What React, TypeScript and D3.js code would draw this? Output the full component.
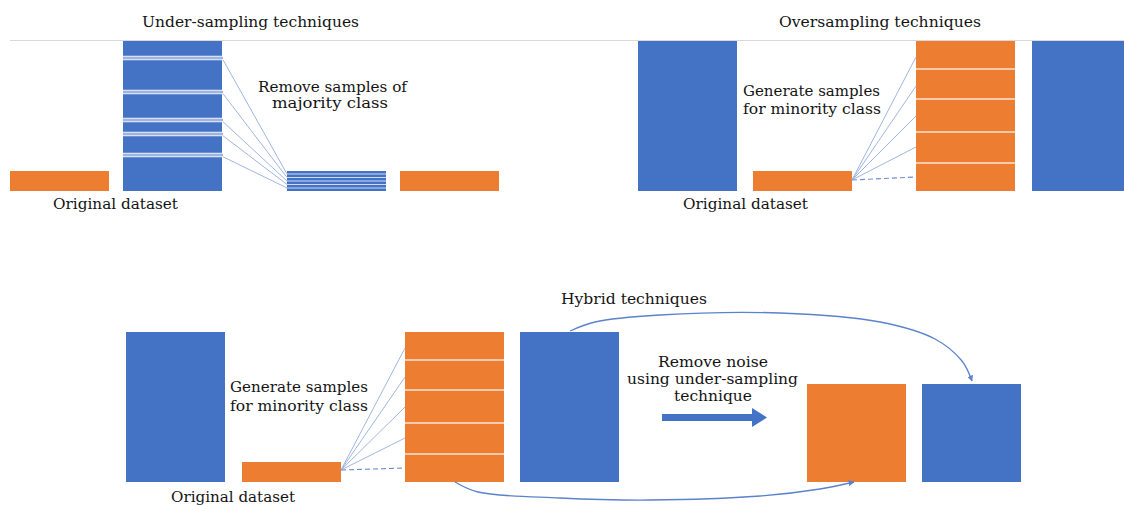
import React from "react";
import * as d3 from "d3";

// ---------- data ----------
const classColors = ["#4472C4", "#ED7D31"];
const classNames = ["majority", "minority"];

// Under-sampling panel: original minority, original majority, reduced majority, minority
const underClasses = ["minority", "majority", "majority", "minority"];
const underCounts = [20, 150, 20, 20];
const removedSampleLevels = [133, 99, 71, 57, 36];
const reducedSampleLevels = [17, 13.5, 10, 6.5, 3];

// Oversampling panel
const overClasses = ["majority", "minority", "minority", "majority"];
const overCounts = [150, 20, 150, 150];
const generatedBoundaries = [122, 92, 59, 28];
const generatedTargets = [134, 105, 75, 44, 14];

// Hybrid panel
const hybridClasses = ["majority", "minority", "minority", "majority", "minority", "majority"];
const hybridCounts = [150, 20, 150, 150, 98, 98];

const panelTitles = ["Under-sampling techniques", "Oversampling techniques", "Hybrid techniques"];

// ---------- layout ----------
const W = 1124;
const H = 505;
const BAR_W = 99;
const underX = [10, 123, 287, 400];
const overX = [638, 753, 916, 1032];
const hybridX = [126, 242, 405, 520, 807, 922];

const yTop = d3.scaleLinear().domain([0, 150]).range([191, 41]);
const yBot = d3.scaleLinear().domain([0, 150]).range([482, 332]);
const color = d3.scaleOrdinal<string, string>().domain(classNames).range(classColors);

const FONT = "'DejaVu Serif', 'Liberation Serif', serif";
const TEXT_COLOR = "#141414";
const FAN = "#9fb6e2";
const FAN_DASH = "#6f8fd0";
const CURVE = "#5b82cc";

type Label = { t: string; x: number; y: number; w: number };
const labels: Label[] = [
  { t: panelTitles[0], x: 250.5, y: 27, w: 217 },
  { t: panelTitles[1], x: 880, y: 27, w: 202 },
  { t: "Remove samples of", x: 332.5, y: 92, w: 149 },
  { t: "majority class", x: 330, y: 108, w: 116 },
  { t: "Original dataset", x: 115.5, y: 209, w: 125 },
  { t: "Generate samples", x: 811.5, y: 96, w: 137 },
  { t: "for minority class", x: 812, y: 114, w: 138 },
  { t: "Original dataset", x: 745.5, y: 209, w: 125 },
  { t: "Generate samples", x: 299, y: 392, w: 138 },
  { t: "for minority class", x: 299, y: 411, w: 138 },
  { t: "Original dataset", x: 233, y: 502, w: 124 },
  { t: panelTitles[2], x: 634, y: 304, w: 146 },
  { t: "Remove noise", x: 713, y: 367, w: 110 },
  { t: "using under-sampling", x: 712.5, y: 384, w: 171 },
  { t: "technique", x: 713, y: 401, w: 78 },
];

function Bars({ xs, cls, counts, y }: { xs: number[]; cls: string[]; counts: number[]; y: d3.ScaleLinear<number, number> }) {
  return (
    <g>
      {counts.map((c, i) => (
        <rect key={i} x={xs[i]} y={y(c)} width={BAR_W} height={y(0) - y(c)} fill={color(cls[i])} />
      ))}
    </g>
  );
}

function OverFan({ srcX, srcLevel, barX, y }: { srcX: number; srcLevel: number; barX: number; y: d3.ScaleLinear<number, number> }) {
  return (
    <g>
      {generatedTargets.map((lv, i) => {
        const last = i === generatedTargets.length - 1;
        return (
          <line
            key={i}
            x1={srcX}
            y1={y(srcLevel)}
            x2={barX}
            y2={y(lv)}
            stroke={last ? FAN_DASH : FAN}
            strokeWidth={last ? 1.2 : 1}
            strokeDasharray={last ? "5,3" : undefined}
          />
        );
      })}
    </g>
  );
}

function Boundaries({ x, y }: { x: number; y: d3.ScaleLinear<number, number> }) {
  return (
    <g>
      {generatedBoundaries.map((lv, i) => (
        <line key={i} x1={x} x2={x + BAR_W} y1={y(lv)} y2={y(lv)} stroke="#fbe3d4" strokeWidth={1.5} />
      ))}
    </g>
  );
}

export default function App() {
  const curveLine = d3
    .line<[number, number]>()
    .x((d) => d[0])
    .y((d) => d[1])
    .curve(d3.curveCatmullRom.alpha(0.5));

  const topArc: [number, number][] = [
    [570, 331],
    [595, 322],
    [660, 315],
    [780, 313],
    [880, 322],
    [935, 339],
    [962, 361],
    [972, 381],
  ];
  const bottomArc: [number, number][] = [
    [455, 482],
    [478, 492],
    [560, 498],
    [650, 500],
    [760, 496],
    [820, 489],
    [854, 482],
  ];

  const majX = underX[1];
  const redX = underX[2];

  return (
    <svg width={W} height={H} style={{ position: "absolute", left: 0, top: 0, background: "#fff" }}>
      <defs>
        <marker id="ah" viewBox="0 0 10 10" refX="9" refY="5" markerWidth="6" markerHeight="6" orient="auto-start-reverse" markerUnits="userSpaceOnUse">
          <path d="M0,0 L10,5 L0,10 z" fill={CURVE} />
        </marker>
      </defs>
      <rect x={0} y={0} width={W} height={H} fill="#fff" />

      {/* top separator */}
      <line x1={10} x2={W} y1={40.5} y2={40.5} stroke="#d9d9d9" strokeWidth={1} />

      {/* ---------- Under-sampling ---------- */}
      <Bars xs={underX} cls={underClasses} counts={underCounts} y={yTop} />
      {removedSampleLevels.map((lv, i) => (
        <g key={i}>
          <rect x={majX} y={yTop(lv + 1.75)} width={BAR_W + 1} height={3.5} fill="#9db3e2" />
          <line x1={majX} x2={majX + BAR_W + 1} y1={yTop(lv + 1.75)} y2={yTop(lv + 1.75)} stroke="#ffffff" strokeOpacity={0.9} strokeWidth={1} />
          <line x1={majX} x2={majX + BAR_W + 1} y1={yTop(lv - 1.75)} y2={yTop(lv - 1.75)} stroke="#ffffff" strokeOpacity={0.9} strokeWidth={1} />
          <line x1={majX + BAR_W + 1} y1={yTop(lv - 1.75)} x2={redX} y2={yTop(reducedSampleLevels[i])} stroke={FAN} strokeWidth={1} />
        </g>
      ))}
      {reducedSampleLevels.map((lv, i) => (
        <line key={i} x1={redX} x2={redX + BAR_W} y1={yTop(lv)} y2={yTop(lv)} stroke="#dfe7f7" strokeOpacity={0.9} strokeWidth={1.2} />
      ))}

      {/* ---------- Oversampling ---------- */}
      <Bars xs={overX} cls={overClasses} counts={overCounts} y={yTop} />
      <Boundaries x={overX[2]} y={yTop} />
      <OverFan srcX={overX[1] + BAR_W} srcLevel={11} barX={overX[2]} y={yTop} />

      {/* ---------- Hybrid ---------- */}
      <Bars xs={hybridX} cls={hybridClasses} counts={hybridCounts} y={yBot} />
      <Boundaries x={hybridX[2]} y={yBot} />
      <OverFan srcX={hybridX[1] + BAR_W} srcLevel={12} barX={hybridX[2]} y={yBot} />

      <path d={curveLine(topArc) || ""} fill="none" stroke={CURVE} strokeWidth={1.3} markerEnd="url(#ah)" />
      <path d={curveLine(bottomArc) || ""} fill="none" stroke={CURVE} strokeWidth={1.3} markerEnd="url(#ah)" />

      {/* thick arrow */}
      <rect x={662} y={414} width={91} height={7} fill="#4472C4" />
      <path d="M752,408 L767,417.5 L752,427 Z" fill="#4472C4" />

      {/* ---------- labels ---------- */}
      {labels.map((l, i) => (
        <text
          key={i}
          x={l.x - l.w / 2}
          y={l.y}
          textLength={l.w}
          lengthAdjust="spacingAndGlyphs"
          fontFamily={FONT}
          fontSize={15}
          fill={TEXT_COLOR}
        >
          {l.t}
        </text>
      ))}
    </svg>
  );
}
